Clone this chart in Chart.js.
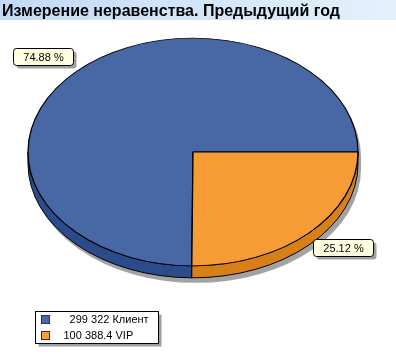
<!DOCTYPE html>
<html>
<head>
<meta charset="utf-8">
<script src="https://cdn.jsdelivr.net/npm/chart.js@4/dist/chart.umd.min.js"></script>
<style>
html,body{margin:0;padding:0;background:#fff;}
#wrap{width:396px;height:361px;position:relative;}
</style>
</head>
<body>
<div id="wrap"><canvas id="c" width="396" height="361"></canvas></div>
<script>
// ---- data ----
const titleText = 'Измерение неравенства. Предыдущий год';
const categories = ['Клиент', 'VIP'];
const values = [299322, 100388.4];

// ---- style ----
const topColors = ['#4767a5', '#f59d34'];
const sideColors = ['#2c4b8c', '#d88018'];
const legendColors = ['#4767a5', '#f5a03c'];
const TILT = 0.69;      // vertical squash of the pie
const DEPTH = 12;       // 3D side height
const SHADOW = {dx: 3, dy: 5, color: '#a3a3a3'};
const FONT = '"Liberation Sans", Arial, sans-serif';

const total = values.reduce((a, b) => a + b, 0);
function fmt(v) {
  const parts = String(v).split('.');
  return parts[0].replace(/\B(?=(\d{3})+(?!\d))/g, ' ') + (parts[1] ? '.' + parts[1] : '');
}
const valueTexts = values.map(fmt);
const maxLen = Math.max(...valueTexts.map(s => s.length));
const legendLabels = valueTexts.map((s, i) => s.padStart(maxLen, ' ') + ' ' + categories[i]);
const pctLabels = values.map(v => (v / total * 100).toFixed(2) + ' %');

function roundRect(ctx, x, y, w, h, r) {
  ctx.beginPath();
  ctx.moveTo(x + r, y);
  ctx.lineTo(x + w - r, y);
  ctx.quadraticCurveTo(x + w, y, x + w, y + r);
  ctx.lineTo(x + w, y + h - r);
  ctx.quadraticCurveTo(x + w, y + h, x + w - r, y + h);
  ctx.lineTo(x + r, y + h);
  ctx.quadraticCurveTo(x, y + h, x, y + h - r);
  ctx.lineTo(x, y + r);
  ctx.quadraticCurveTo(x, y, x + r, y);
  ctx.closePath();
}

const pie3d = {
  id: 'pie3d',
  beforeDraw(chart) {
    const ctx = chart.ctx;
    ctx.save();
    const g = ctx.createLinearGradient(0, 0, chart.width, 0);
    g.addColorStop(0, '#c3d9f4');
    g.addColorStop(1, '#e4f1fd');
    ctx.fillStyle = g;
    ctx.fillRect(0, 0, chart.width, 20);
    ctx.fillStyle = '#000';
    ctx.font = 'bold 16px ' + FONT;
    ctx.textBaseline = 'alphabetic';
    ctx.fillText(titleText, 2, 16);
    ctx.restore();
  },
  beforeDatasetsDraw(chart) {
    const ctx = chart.ctx;
    const arcs = chart.getDatasetMeta(0).data;
    const cx = arcs[0].x, cy = arcs[0].y, R = arcs[0].outerRadius, ry = R * TILT;
    ctx.save();
    // shadow
    ctx.fillStyle = SHADOW.color;
    ctx.beginPath();
    ctx.ellipse(cx + SHADOW.dx, cy + SHADOW.dy, R, ry, 0, 0, Math.PI * 2);
    ctx.fill();
    ctx.beginPath();
    ctx.ellipse(cx + SHADOW.dx, cy + SHADOW.dy + DEPTH, R, ry, 0, 0, Math.PI * 2);
    ctx.fill();
    ctx.fillRect(cx + SHADOW.dx - R, cy + SHADOW.dy, 2 * R, DEPTH);
    // side walls
    const TWO = Math.PI * 2;
    arcs.forEach((a, i) => {
      let s = a.startAngle, e = a.endAngle;
      for (let k = -2; k <= 2; k++) {
        const lo = Math.max(s, k * TWO), hi = Math.min(e, k * TWO + Math.PI);
        if (hi > lo) {
          ctx.beginPath();
          ctx.ellipse(cx, cy, R, ry, 0, lo, hi);
          ctx.ellipse(cx, cy + DEPTH, R, ry, 0, hi, lo, true);
          ctx.closePath();
          ctx.fillStyle = sideColors[i];
          ctx.fill();
          ctx.lineWidth = 1;
          ctx.strokeStyle = '#000';
          ctx.stroke();
        }
      }
    });
    // squash the top face
    ctx.translate(cx, cy);
    ctx.scale(1, TILT);
    ctx.translate(-cx, -cy);
  },
  afterDatasetsDraw(chart) {
    const ctx = chart.ctx;
    ctx.restore();
    const arcs = chart.getDatasetMeta(0).data;
    const cx = arcs[0].x, cy = arcs[0].y, R = arcs[0].outerRadius, ry = R * TILT;
    ctx.save();
    ctx.font = '11px ' + FONT;
    ctx.textBaseline = 'middle';
    // percentage callouts
    arcs.forEach((a, i) => {
      const mid = (a.startAngle + a.endAngle) / 2;
      const c = Math.cos(mid), s = Math.sin(mid);
      const ax = cx + R * 1.033 * c, ay = cy + ry * 1.073 * s;
      const tw = ctx.measureText(pctLabels[i]).width;
      const w = Math.round(tw + 20), h = 17;
      const x = Math.round(c < 0 ? ax - w : ax) + 0.5;
      const y = Math.round(s < 0 ? ay - h : ay) + 0.5;
      ctx.fillStyle = '#a0a0a0';
      roundRect(ctx, x + 3, y + 3, w, h, 3);
      ctx.fill();
      ctx.fillStyle = '#ffffe1';
      roundRect(ctx, x, y, w, h, 3);
      ctx.fill();
      ctx.strokeStyle = '#000';
      ctx.lineWidth = 1;
      ctx.stroke();
      ctx.fillStyle = '#000';
      ctx.textAlign = 'center';
      ctx.fillText(pctLabels[i], x + w / 2, y + h / 2 + 0.5);
    });
    // legend
    const lx = 35.5, ly = chart.height - 50 + 0.5, lw = 123, lh = 32;
    ctx.fillStyle = '#a0a0a0';
    ctx.fillRect(lx + 3, ly + 3, lw, lh);
    ctx.fillStyle = '#fff';
    ctx.fillRect(lx, ly, lw, lh);
    ctx.strokeStyle = '#000';
    ctx.strokeRect(lx, ly, lw, lh);
    ctx.textAlign = 'left';
    legendLabels.forEach((t, i) => {
      const yy = ly + 8 + i * 16;
      ctx.fillStyle = legendColors[i];
      ctx.fillRect(lx + 6, yy - 4, 8, 8);
      ctx.strokeStyle = '#333';
      ctx.strokeRect(lx + 6, yy - 4, 8, 8);
      ctx.fillStyle = '#000';
      ctx.fillText(t, lx + 28, yy);
    });
    ctx.restore();
  }
};

new Chart(document.getElementById('c'), {
  type: 'pie',
  data: {
    labels: categories,
    datasets: [{
      data: values,
      backgroundColor: topColors,
      borderColor: '#000',
      borderWidth: 1.3,
      radius: 165,
      clip: false
    }]
  },
  options: {
    responsive: false,
    animation: false,
    events: [],
    rotation: 90 + 360 * values[1] / total,
    layout: {padding: {top: 0, bottom: 57, left: 0, right: 10}},
    plugins: {legend: {display: false}, title: {display: false}, tooltip: {enabled: false}}
  },
  plugins: [pie3d]
});
</script>
</body>
</html>
